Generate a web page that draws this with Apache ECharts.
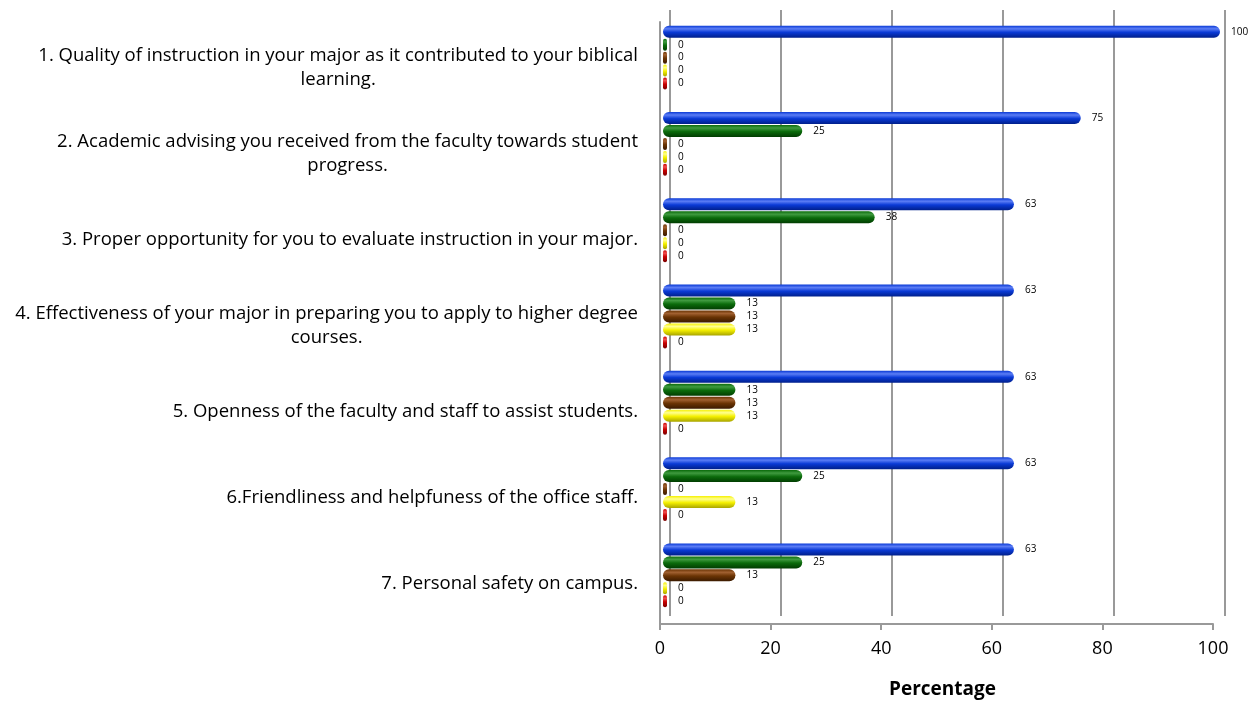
<!DOCTYPE html>
<html>
<head>
<meta charset="utf-8">
<script src="https://cdn.jsdelivr.net/npm/echarts@6/dist/echarts.min.js"></script>
<style>
  html, body { margin: 0; padding: 0; background: #fff; }
  #chart { width: 1256px; height: 706px; }
</style>
</head>
<body>
<div id="chart"></div>
<script>
var categories = [
    "1. Quality of instruction in your major as it contributed to your biblical\nlearning.",
    "2. Academic advising you received from the faculty towards student\nprogress.",
    "3. Proper opportunity for you to evaluate instruction in your major.",
    "4. Effectiveness of your major in preparing you to apply to higher degree\ncourses.",
    "5. Openness of the faculty and staff to assist students.",
    "6.Friendliness and helpfuness of the office staff.",
    "7. Personal safety on campus."
];
var xTicks = [0, 20, 40, 60, 80, 100];
var blueVals = [100, 75, 63, 63, 63, 63, 63];
var greenVals = [0, 25, 38, 13, 13, 25, 25];
var brownVals = [0, 0, 0, 13, 13, 0, 13];
var yellowVals = [0, 0, 0, 13, 13, 13, 0];
var redVals = [0, 0, 0, 0, 0, 0, 0];

var FONT = "'Open Sans', sans-serif";

function tube(light, mid, dark) {
    return new echarts.graphic.LinearGradient(0, 0, 0, 1, [
        { offset: 0, color: mid },
        { offset: 0.25, color: light },
        { offset: 0.55, color: mid },
        { offset: 1, color: dark }
    ]);
}

function barSeries(name, vals, fill) {
    return {
        name: name,
        type: "bar",
        xAxisIndex: 2,
        yAxisIndex: 2,
        data: vals,
        barWidth: 12,
        barGap: "8%",
        barMinHeight: 4,
        itemStyle: { color: fill, borderRadius: 6 },
        label: {
            show: true,
            position: "right",
            distance: 11,
            fontSize: 10,
            fontFamily: FONT,
            color: "#000"
        },
        silent: true
    };
}

var chart = echarts.init(document.getElementById("chart"));
chart.setOption({
    backgroundColor: "#fff",
    animation: false,
    grid: [
        // back wall
        { left: 670, width: 555, top: 10, bottom: 90 },
        // front plane (labels)
        { left: 660, width: 553, top: 22, height: 602 },
        // bars
        { left: 663, width: 557, top: 14.5, height: 604 }
    ],
    xAxis: [
        {
            gridIndex: 0, type: "value", min: 0, max: 100, interval: 20,
            axisLine: { show: false }, axisTick: { show: false }, axisLabel: { show: false },
            splitLine: { show: true, lineStyle: { color: "#999", width: 2 } }
        },
        {
            gridIndex: 1, type: "value", min: xTicks[0], max: xTicks[xTicks.length - 1], interval: 20,
            axisLine: { show: true, onZero: false, lineStyle: { color: "#999", width: 2 } },
            axisTick: { show: true, length: 6, lineStyle: { color: "#999", width: 2 } },
            axisLabel: { fontSize: 18, fontFamily: FONT, color: "#000", margin: 16 },
            splitLine: { show: false },
            name: "Percentage",
            nameLocation: "middle",
            nameGap: 56,
            nameTextStyle: { fontSize: 19, fontWeight: "bold", fontFamily: FONT, color: "#000", padding: [0, 0, 0, 12] }
        },
        {
            gridIndex: 2, type: "value", min: 0, max: 100,
            show: false
        }
    ],
    yAxis: [
        { gridIndex: 0, type: "category", data: categories, show: false },
        {
            gridIndex: 1, type: "category", data: categories, inverse: true,
            axisLine: { show: true, lineStyle: { color: "#999", width: 2 } },
            axisTick: { show: false },
            axisLabel: {
                margin: 22,
                align: "right",
                fontFamily: FONT,
                fontSize: 18.5,
                color: "#000",
                lineHeight: 24,
                padding: [6, 0, 0, 0],
                formatter: function (v) {
                    return v.split("\n").map(function (s) { return "{c|" + s + "}"; }).join("\n");
                },
                rich: {
                    c: { align: "center", fontFamily: FONT, fontSize: 18.5, color: "#000", lineHeight: 24 }
                }
            }
        },
        { gridIndex: 2, type: "category", data: categories, inverse: true, show: false }
    ],
    series: [
        barSeries("Excellent", blueVals, tube("#5b7df5", "#0a3ad6", "#001f8a")),
        barSeries("Good", greenVals, tube("#3f9a3f", "#0b6b0b", "#013c01")),
        barSeries("Fair", brownVals, tube("#a06030", "#6a3404", "#3a1a00")),
        barSeries("Poor", yellowVals, tube("#ffff90", "#f5f000", "#a8a400")),
        barSeries("Very Poor", redVals, tube("#f05050", "#c80000", "#7a0000"))
    ]
});
</script>
</body>
</html>
